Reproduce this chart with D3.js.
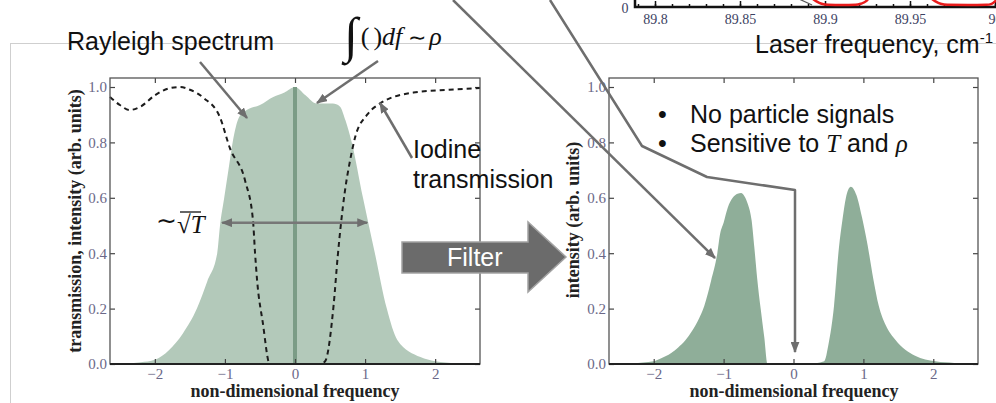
<!DOCTYPE html>
<html><head><meta charset="utf-8">
<script src="https://cdn.jsdelivr.net/npm/d3@7"></script>
<style>
body{margin:0;background:#fff}
svg{display:block}
.ann{font-family:"Liberation Sans",Arial,sans-serif;font-size:25px;fill:#111}
.serif{font-family:"Liberation Serif","Times New Roman",serif}
.it{font-style:italic}
.ax .tick text{font-family:"Liberation Serif",serif;font-size:15px;fill:#6b6888}
.ax .tick line{stroke:#444;stroke-width:1.2}
.inset .tick text{font-family:"Liberation Serif",serif;font-size:14px;fill:#3c4262}
.inset .tick line{stroke:#111;stroke-width:1.5}
.lbl{font-family:"Liberation Serif",serif;font-size:18px;font-weight:bold;fill:#222}
</style></head><body>
<svg id="chart" width="996" height="403"></svg>
<script>
// left panel: Rayleigh spectrum (filled) and iodine transmission (dashed)
const rayleighF = [-2.64,-2.4,-2.2,-2.0,-1.8,-1.6,-1.4,-1.25,-1.11,-1.07,-1.01,-0.95,-0.89,-0.8,-0.69,-0.5,-0.31,-0.15,0,0.15,0.31,0.54,0.64,0.72,0.81,0.97,1.14,1.31,1.46,1.79,2.0,2.3,2.64]
const rayleighI = [0,0.002,0.006,0.015,0.05,0.11,0.2,0.3,0.4,0.5,0.6,0.7,0.8,0.89,0.917,0.935,0.964,0.98,1.0,0.97,0.94,0.94,0.93,0.88,0.8,0.6,0.4,0.2,0.087,0.025,0.01,0.003,0]
const iodineF = [-2.64,-2.5,-2.36,-2.2,-2.0,-1.8,-1.64,-1.5,-1.3,-1.07,-0.93,-0.71,-0.6,-0.57,-0.54,-0.46,-0.36,-0.2,0,0.2,0.36,0.43,0.55,0.61,0.71,0.79,0.86,1.03,1.21,1.69,2.2,2.64]
const iodineT = [0.964,0.935,0.917,0.93,0.97,0.995,1.0,0.99,0.96,0.89,0.78,0.66,0.52,0.4,0.3,0.15,0,0,0,0,0,0.01,0.21,0.39,0.62,0.74,0.82,0.9,0.94,0.98,0.99,0.996]
// right panel: filtered spectrum
const filteredF = [-2.64,-2.3,-2.0,-1.9,-1.75,-1.65,-1.55,-1.45,-1.35,-1.29,-1.18,-1.09,-1.05,-1.0,-0.94,-0.87,-0.8,-0.75,-0.7,-0.65,-0.6,-0.56,-0.52,-0.47,-0.42,-0.37,-0.2,0,0.2,0.44,0.5,0.58,0.65,0.7,0.75,0.82,0.9,0.98,1.06,1.14,1.22,1.32,1.46,1.74,2.03,2.3,2.64]
const filteredI = [0,0.003,0.01,0.02,0.04,0.06,0.085,0.12,0.165,0.2,0.3,0.4,0.47,0.51,0.565,0.6,0.615,0.617,0.605,0.575,0.52,0.42,0.31,0.2,0.1,0,0,0,0,0.01,0.07,0.21,0.42,0.52,0.6,0.64,0.61,0.53,0.43,0.31,0.21,0.14,0.087,0.03,0.01,0.004,0]
const xTicks = [-2,-1,0,1,2]
const yTicks = [0,0.2,0.4,0.6,0.8,1.0]
// top-right inset (cut off): laser frequency axis and iodine lines
const laserMajor = [89.8,89.85,89.9,89.95,90]
const laserMinor = d3.range(89.79,90.005,0.01).map(v => +v.toFixed(2))
const redLine1F = [89.892,89.895,89.898,89.902,89.910,89.918,89.921,89.924,89.926]
const redLine2F = [89.962,89.965,89.968,89.972,89.984,89.995,89.998,90.0,90.002]
const redLineT = [0.12,0.06,0.02,0.003,0,0.003,0.02,0.06,0.12]
const darkLineF = [89.8847,89.8924]
const darkLineT = [0.1,0.0]

const zip = (a,b) => a.map((v,i) => [v,b[i]])
const svg = d3.select('#chart')
const grey = '#6e6e6e'

const defs = svg.append('defs')
defs.append('marker').attr('id','arr').attr('viewBox','0 0 10 8').attr('refX',9).attr('refY',4)
  .attr('markerUnits','userSpaceOnUse').attr('markerWidth',11).attr('markerHeight',9).attr('orient','auto-start-reverse')
  .append('path').attr('d','M0,0L10,4L0,8z').attr('fill',grey)

// slide frame lines
svg.append('line').attr('x1',10).attr('x2',996).attr('y1',43.5).attr('y2',43.5).attr('stroke','#cfcfcf')
svg.append('line').attr('x1',10.5).attr('x2',10.5).attr('y1',43).attr('y2',403).attr('stroke','#cfcfcf')

// inset
const fx = d3.scaleLinear().domain([89.8,90]).range([655,995])
const fy = d3.scaleLinear().domain([0,0.1]).range([5,-1])
const inset = svg.append('g').attr('class','inset')
inset.append('g').attr('transform','translate(0,7)')
  .call(d3.axisBottom(fx).tickValues(laserMinor).tickSize(-3).tickFormat(''))
  .call(g => g.select('.domain').remove())
inset.append('g').attr('transform','translate(0,7)')
  .call(d3.axisBottom(fx).tickValues(laserMajor).tickSize(-6).tickPadding(7).tickFormat(d3.format('.2~f')))
  .call(g => g.select('.domain').remove())
inset.append('path').attr('d','M635,0V7H996').attr('fill','none').attr('stroke','#111').attr('stroke-width',2.5)
inset.append('text').attr('class','serif').attr('x',625).attr('y',13).attr('text-anchor','middle')
  .attr('font-size',14).attr('fill','#3c4262').text('0')
const fline = d3.line().x(d => fx(d[0])).y(d => fy(d[1])).curve(d3.curveMonotoneX)
inset.append('path').attr('d',fline(zip(darkLineF,darkLineT))).attr('fill','none').attr('stroke','#555').attr('stroke-width',1.2)
;[redLine1F,redLine2F].forEach(f => inset.append('path').attr('d',fline(zip(f,redLineT)))
  .attr('fill','none').attr('stroke','#e81c1c').attr('stroke-width',2.5))
svg.append('text').attr('class','ann').attr('x',755).attr('y',53).text('Laser frequency, cm')
  .append('tspan').attr('dy',-10).attr('font-size',15).text('-1')

// panels
const y = d3.scaleLinear().domain([0,1.0325]).range([364,78])
function panel(x0, x1) {
  const x = d3.scaleLinear().domain([-2.64,2.64]).range([x0,x1])
  const g = svg.append('g').attr('class','ax')
  const axes = [
    [d3.axisBottom(x).tickValues(xTicks).tickSize(-5).tickPadding(4).tickFormat(d3.format('d')), 364],
    [d3.axisTop(x).tickValues(xTicks).tickSize(-5).tickFormat(''), 78]]
  axes.forEach(([a,t]) => g.append('g').attr('transform',`translate(0,${t})`).call(a).call(s => s.select('.domain').remove()))
  g.append('g').attr('transform',`translate(${x0},0)`)
    .call(d3.axisLeft(y).tickValues(yTicks).tickSize(-5).tickPadding(3).tickFormat(d3.format('.1f')))
    .call(s => s.select('.domain').remove())
  g.append('g').attr('transform',`translate(${x1},0)`)
    .call(d3.axisRight(y).tickValues(yTicks).tickSize(-5).tickFormat(''))
    .call(s => s.select('.domain').remove())
  return {x, g}
}
const area = x => d3.area().x(d => x(d[0])).y0(y(0)).y1(d => y(d[1])).curve(d3.curveMonotoneX)

const L = panel(110,480)
const layerL = svg.insert('g','.ax')
layerL.append('path').attr('d',area(L.x)(zip(rayleighF,rayleighI))).attr('fill','#b3c9ba')
layerL.append('line').attr('x1',L.x(0)).attr('x2',L.x(0)).attr('y1',y(1.0)).attr('y2',y(0))
  .attr('stroke','#7b9c86').attr('stroke-width',4)
svg.append('path').attr('d',d3.line().x(d => L.x(d[0])).y(d => y(d[1])).curve(d3.curveMonotoneX)(zip(iodineF,iodineT)))
  .attr('fill','none').attr('stroke','#1c1c1c').attr('stroke-width',2).attr('stroke-dasharray','5,4')
svg.append('line').attr('x1',L.x(-1.04)).attr('x2',L.x(1.03)).attr('y1',y(0.51)).attr('y2',y(0.51))
  .attr('stroke','#777').attr('stroke-width',2.5).attr('marker-start','url(#arr)').attr('marker-end','url(#arr)')
svg.append('rect').attr('x',110).attr('y',78).attr('width',370).attr('height',286).attr('fill','none').attr('stroke','#555').attr('stroke-width',1.3)
svg.append('line').attr('x1',110).attr('x2',480).attr('y1',364).attr('y2',364).attr('stroke','#222').attr('stroke-width',1.8)
svg.append('text').attr('class','lbl').attr('x',295).attr('y',397).attr('text-anchor','middle').text('non-dimensional frequency')
svg.append('text').attr('class','lbl').attr('transform','translate(75,221) rotate(-90)').attr('dy','0.35em')
  .attr('text-anchor','middle').text('transmission, intensity (arb. units)')

const R = panel(609,978)
svg.insert('path','.ax').attr('d',area(R.x)(zip(filteredF,filteredI))).attr('fill','#8fae99')
svg.append('rect').attr('x',609).attr('y',78).attr('width',369).attr('height',286).attr('fill','none').attr('stroke','#555').attr('stroke-width',1.3)
svg.append('line').attr('x1',609).attr('x2',978).attr('y1',364).attr('y2',364).attr('stroke','#222').attr('stroke-width',1.8)
svg.append('text').attr('class','lbl').attr('x',794).attr('y',397).attr('text-anchor','middle').text('non-dimensional frequency')
svg.append('text').attr('class','lbl').attr('transform','translate(573,220) rotate(-90)').attr('dy','0.35em')
  .attr('text-anchor','middle').text('intensity (arb. units)')

// annotations
svg.append('text').attr('class','ann').attr('x',67).attr('y',50).text('Rayleigh spectrum')
const integ = svg.append('text').attr('class','serif').attr('x',344).attr('y',52).attr('fill','#111')
integ.append('tspan').attr('font-size',50).text('∫')
integ.append('tspan').attr('font-size',26).attr('dy',-7).attr('dx',3).text('(')
integ.append('tspan').attr('font-size',26).attr('dx',4).text(')')
integ.append('tspan').attr('font-size',26).attr('class','it').text('df')
integ.append('tspan').attr('font-size',22).attr('dx',6).text('∼')
integ.append('tspan').attr('font-size',26).attr('class','it').attr('dx',3).text('ρ')
svg.append('text').attr('class','ann').attr('x',413).attr('y',158).text('Iodine')
svg.append('text').attr('class','ann').attr('x',413).attr('y',188).text('transmission')
const sq = svg.append('text').attr('class','serif').attr('x',156).attr('y',233).attr('font-size',25).attr('fill','#111')
sq.append('tspan').attr('dy',-4).text('∼')
sq.append('tspan').attr('dy',4).text('√')
sq.append('tspan').attr('class','it').text('T')
svg.append('line').attr('x1',180).attr('x2',201).attr('y1',212).attr('y2',212).attr('stroke','#111').attr('stroke-width',1.3)

const b1 = svg.append('text').attr('class','ann').attr('x',658).attr('y',123)
b1.append('tspan').text('•')
b1.append('tspan').attr('x',690).text('No particle signals')
const b2 = svg.append('text').attr('class','ann').attr('x',658).attr('y',152)
b2.append('tspan').text('•')
b2.append('tspan').attr('x',690).text('Sensitive to ')
b2.append('tspan').attr('class','serif it').text('T')
b2.append('tspan').text(' and ')
b2.append('tspan').attr('class','serif it').text('ρ')

// filter block arrow
svg.append('path').attr('d','M402,242H528V222L566,257L528,292V273H402Z').attr('fill','#6b6b6b').attr('stroke','#a3a3a3').attr('stroke-width',1.5)
svg.append('text').attr('class','ann').attr('x',447).attr('y',266).style('fill','#fff').text('Filter')

// callout arrows
const callouts = [
  [[200,62],[247,118]],
  [[378,61],[317,103]],
  [[412,158],[380,103]],
  [[453,0],[715,258]],
  [[550,0],[642,146],[707,177],[795,190],[795,352]]
]
callouts.forEach(p => svg.append('path').attr('d',d3.line()(p)).attr('fill','none').attr('stroke',grey)
  .attr('stroke-width',2.5).attr('stroke-linejoin','round').attr('marker-end','url(#arr)'))
</script></body></html>
